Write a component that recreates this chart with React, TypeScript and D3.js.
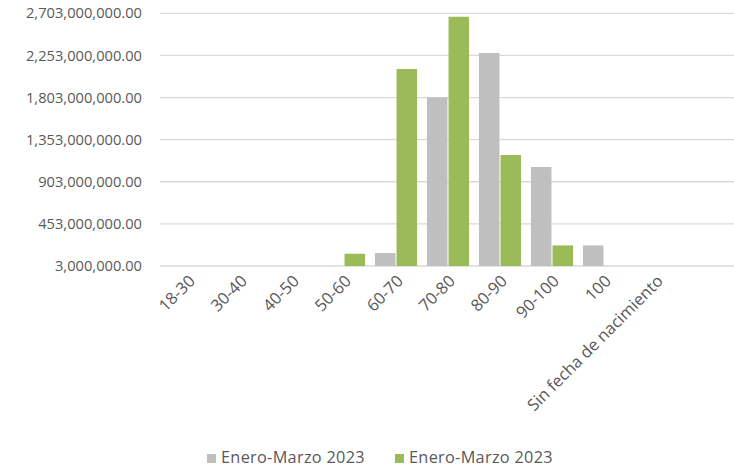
import { useEffect, useRef } from "react";
import * as d3 from "d3";

const categories = [
  "18-30",
  "30-40",
  "40-50",
  "50-60",
  "60-70",
  "70-80",
  "80-90",
  "90-100",
  "100",
  "Sin fecha de nacimiento",
  "",
];

// grey series (first) and green series (second), both labelled the same
const seriesNames = ["Enero-Marzo 2023", "Enero-Marzo 2023"];
const greyValues = [0, 0, 0, 0, 139e6, 1801e6, 2276e6, 1058e6, 220e6, 0, 0];
const greenValues = [0, 0, 0, 131e6, 2105e6, 2663e6, 1186e6, 220e6, 0, 0, 0];

const yTicks = [3e6, 453e6, 903e6, 1353e6, 1803e6, 2253e6, 2703e6];

const colors = ["#bfbfbf", "#9bbb59"];

export default function App() {
  const svgRef = useRef<SVGSVGElement>(null);
  const width = 734;
  const height = 468;

  useEffect(() => {
    if (!svgRef.current) return;
    document.body.style.margin = "0";

    const svg = d3.select(svgRef.current);
    svg.selectAll("*").remove();

    const font = "'Open Sans', sans-serif";
    const left = 160;
    const top = 13.3;
    const bottom = 266;

    const xScale = d3.scaleBand<string>()
      .domain(categories.map((c, i) => `${i}`))
      .range([162, 734])
      .paddingInner(0.19)
      .paddingOuter(0.095);

    const yScale = d3.scaleLinear()
      .domain([3e6, 2703e6])
      .range([bottom, top]);

    const inner = d3.scaleBand<number>()
      .domain([0, 1])
      .range([0, xScale.bandwidth()])
      .paddingInner(0.05);

    // Gridlines
    svg.append("g")
      .selectAll("line")
      .data(yTicks)
      .join("line")
      .attr("x1", left)
      .attr("x2", width)
      .attr("y1", d => yScale(d))
      .attr("y2", d => yScale(d))
      .attr("stroke", "#d9d9d9")
      .attr("stroke-width", 1.3);

    // Y labels
    svg.append("g")
      .selectAll("text")
      .data(yTicks)
      .join("text")
      .attr("x", 142)
      .attr("y", d => yScale(d))
      .attr("dy", "0.35em")
      .attr("text-anchor", "end")
      .attr("fill", "#595959")
      .attr("font-family", font)
      .attr("font-size", "14.7px")
      .text(d => d3.format(",.2f")(d));

    // Bars
    [greyValues, greenValues].forEach((vals, s) => {
      svg.append("g")
        .selectAll("rect")
        .data(vals.map((v, i) => ({ v, i })).filter(d => d.v > 0))
        .join("rect")
        .attr("x", d => xScale(`${d.i}`)! + inner(s)!)
        .attr("y", d => yScale(d.v + 3e6))
        .attr("width", inner.bandwidth())
        .attr("height", d => bottom - yScale(d.v + 3e6))
        .attr("fill", colors[s]);
    });

    // X labels
    svg.append("g")
      .selectAll("text")
      .data(categories)
      .join("text")
      .attr("transform", (_, i) => {
        const cx = xScale(`${i}`)! + xScale.bandwidth() / 2;
        return `translate(${cx + 4},${278}) rotate(-45)`;
      })
      .attr("text-anchor", "end")
      .attr("dy", "0.35em")
      .attr("fill", "#595959")
      .attr("font-family", font)
      .attr("font-size", "16.5px")
      .text(d => d);

    // Legend
    const legendX = [207, 395];
    seriesNames.forEach((name, s) => {
      svg.append("rect")
        .attr("x", legendX[s])
        .attr("y", 454)
        .attr("width", 9)
        .attr("height", 9)
        .attr("fill", colors[s]);
      svg.append("text")
        .attr("x", legendX[s] + 14)
        .attr("y", 463)
        .attr("fill", "#595959")
        .attr("font-family", font)
        .attr("font-size", "16.3px")
        .attr("letter-spacing", "0.3px")
        .text(name);
    });
  }, []);

  return (
    <svg
      ref={svgRef}
      width={width}
      height={height}
      style={{ display: "block", background: "#ffffff" }}
    />
  );
}
